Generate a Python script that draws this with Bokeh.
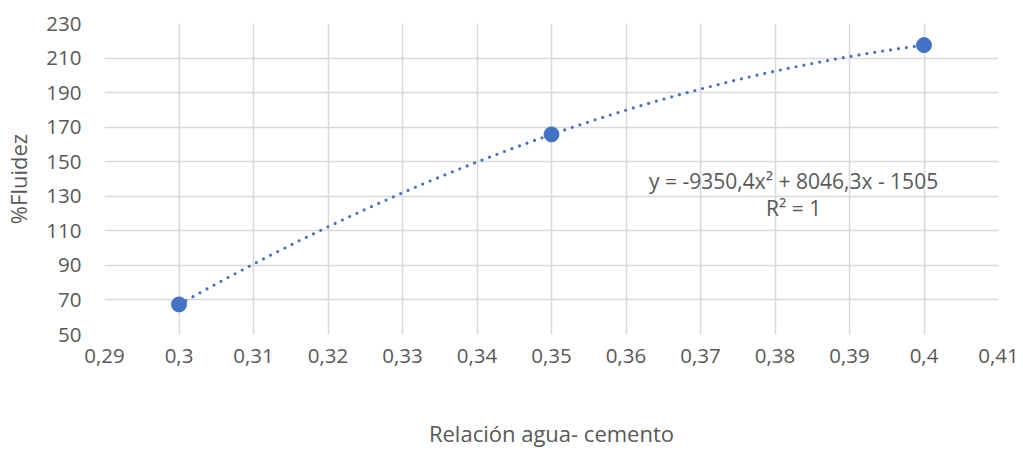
import numpy as np
from bokeh.plotting import figure
from bokeh.models import FixedTicker, CustomJSTickFormatter, Label, Range1d
from bokeh.embed import file_html
from bokeh.resources import INLINE

# data
relacion = [0.30, 0.35, 0.40]
fluidez = [67.4, 165.8, 217.5]
x_ticks = [0.29, 0.30, 0.31, 0.32, 0.33, 0.34, 0.35, 0.36, 0.37, 0.38, 0.39, 0.40, 0.41]
y_ticks = [50, 70, 90, 110, 130, 150, 170, 190, 210, 230]
coef = [-9350.4, 8046.3, -1505.0]  # trendline coefficients shown in the chart
eq_text = "y = -9350,4x² + 8046,3x - 1505"
r2_text = "R² = 1"

FONT = "Open Sans"
GRAY = "#595959"
BLUE = "#4472C4"

p = figure(width=1023, height=450, output_backend="svg", toolbar_location=None,
           x_range=Range1d(0.29, 0.41), y_range=Range1d(50, 230),
           min_border_left=102, min_border_right=25, min_border_top=23, min_border_bottom=113)
p.outline_line_color = None
p.background_fill_color = "white"
p.border_fill_color = "white"

# trendline
xs = np.linspace(relacion[0], relacion[-1], 200)
ys = np.polyval(coef, xs)
p.line(xs, ys, line_color=BLUE, line_width=3.2, line_dash="0 8", line_cap="round")

p.scatter(relacion, fluidez, size=15, fill_color=BLUE, line_color=BLUE)

fmt = CustomJSTickFormatter(code="""
var s = tick.toFixed(2);
s = s.replace(/0+$/, '');
return s.replace('.', ',');
""")
p.xaxis.ticker = FixedTicker(ticks=x_ticks)
p.xaxis.formatter = fmt
p.yaxis.ticker = FixedTicker(ticks=y_ticks)

for ax in (p.xaxis, p.yaxis):
    ax.axis_line_color = None
    ax.major_tick_line_color = None
    ax.minor_tick_line_color = None
    ax.major_label_text_font = FONT
    ax.major_label_text_font_size = "20.5px"
    ax.major_label_text_color = GRAY
    ax.axis_label_text_font = FONT
    ax.axis_label_text_font_size = "22px"
    ax.axis_label_text_color = GRAY
    ax.axis_label_text_font_style = "normal"

p.xaxis.axis_label = "Relación agua- cemento"
p.yaxis.axis_label = "%Fluidez"
p.xaxis.major_label_standoff = 8
p.xaxis.axis_label_standoff = 52
p.yaxis.major_label_standoff = 17
p.yaxis.axis_label_standoff = 10

p.xgrid.ticker = FixedTicker(ticks=x_ticks)
p.ygrid.ticker = FixedTicker(ticks=y_ticks)
p.xgrid.grid_line_color = "#d9d9d9"
p.ygrid.grid_line_color = "#d9d9d9"
p.xgrid.grid_line_width = 1.5
p.ygrid.grid_line_width = 1.5

p.add_layout(Label(x=0.3825, y=139, text=eq_text, text_font=FONT, text_font_size="21px",
                   text_color=GRAY, text_align="center", text_baseline="middle"))
p.add_layout(Label(x=0.3825, y=123, text=r2_text, text_font=FONT, text_font_size="21px",
                   text_color=GRAY, text_align="center", text_baseline="middle"))

open("out.html", "w").write(file_html(p, INLINE))
